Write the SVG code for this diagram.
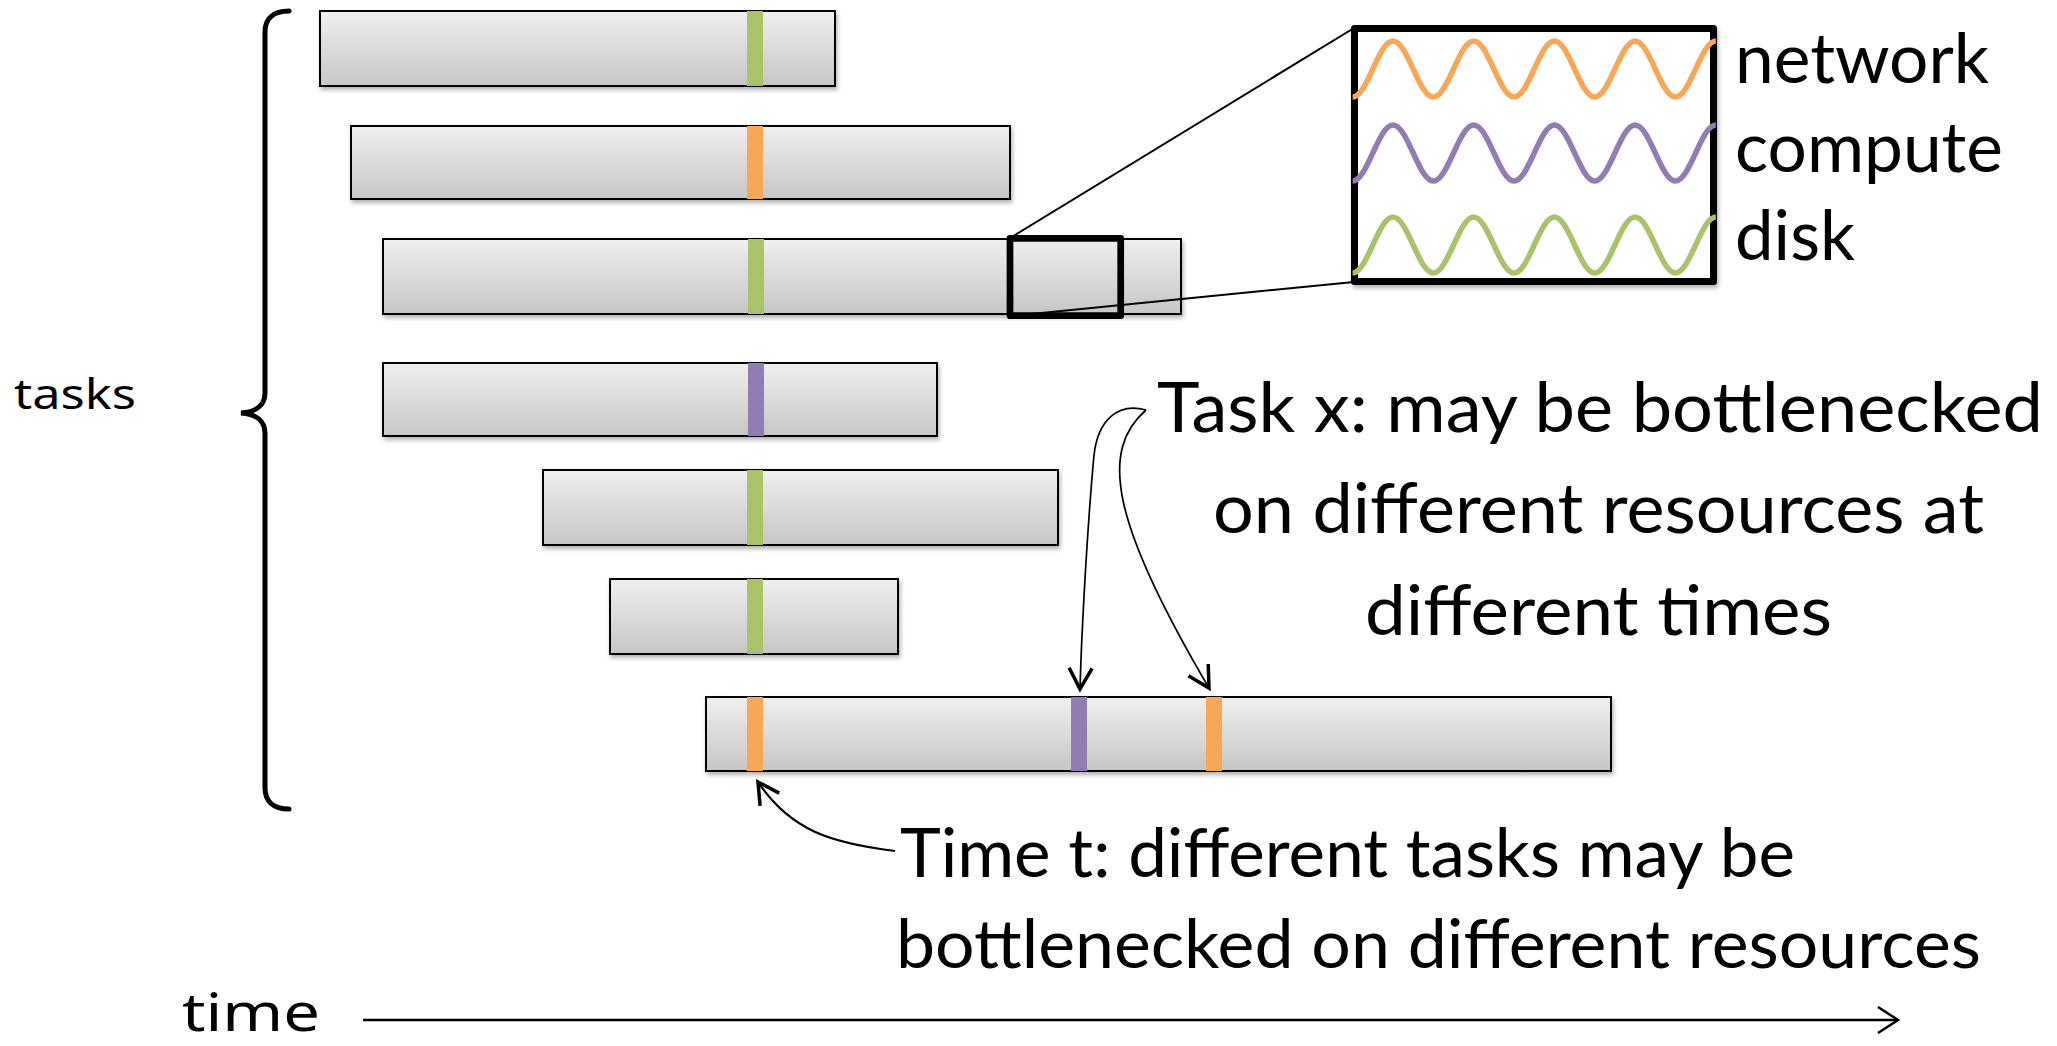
<svg xmlns="http://www.w3.org/2000/svg" width="2057" height="1046" viewBox="0 0 2057 1046">
<style>
  .bar { fill: url(#barGrad); stroke: #000; stroke-width: 2; filter: url(#shadow); }
  .green { fill: #A9C36A; }
  .orange { fill: #F8A757; }
  .purple { fill: #917CB3; }
  .wave { fill: none; stroke-width: 5.5; stroke-linejoin: round; }
  .big { font-family: Lato, "Liberation Sans", sans-serif; font-size: 70px; fill: #000; }
  .mid { font-family: Lato, "Liberation Sans", sans-serif; font-size: 68px; fill: #000; }
  .side { font-family: "Noto Sans", "DejaVu Sans", sans-serif; fill: #000; }
  .conn { fill: none; stroke: #000; }
</style>
<defs>
  <linearGradient id="barGrad" x1="0" y1="0" x2="0" y2="1">
    <stop offset="0" stop-color="#EFEFEF"/>
    <stop offset="1" stop-color="#C6C6C6"/>
  </linearGradient>
  <filter id="shadow" x="-5%" y="-20%" width="110%" height="150%">
    <feDropShadow dx="1.5" dy="3" stdDeviation="2" flood-color="#000" flood-opacity="0.3"/>
  </filter>
  <marker id="chev" markerUnits="userSpaceOnUse" markerWidth="30" markerHeight="30" viewBox="-25 -15 30 30" refX="0" refY="0" orient="auto" overflow="visible">
    <path d="M-21,-11.5 L0,0 L-21,11.5" fill="none" stroke="#000" stroke-width="3.5"/>
  </marker>
  <marker id="chevT" markerUnits="userSpaceOnUse" markerWidth="30" markerHeight="30" viewBox="-25 -15 30 30" refX="0" refY="0" orient="auto" overflow="visible">
    <path d="M-20,-13 L0,0 L-20,13" fill="none" stroke="#000" stroke-width="2.5"/>
  </marker>
</defs>
<rect x="0" y="0" width="2057" height="1046" fill="#fff"/>

<g id="brace">
  <path d="M289,11 C273,11 265,19 265,32 L265,393 C265,405 256,412 241,413 C256,414 265,421 265,433 L265,788 C265,801 273,809 289,809" fill="none" stroke="#000" stroke-width="5" stroke-linecap="round"/>
</g>
<g id="label-tasks"><text class="side" x="14" y="409" font-size="42" textLength="122" lengthAdjust="spacingAndGlyphs">tasks</text></g>

<g id="task1"><rect class="bar" x="320" y="11" width="515" height="75"/><rect class="green" x="747" y="11" width="16" height="75"/></g>
<g id="task2"><rect class="bar" x="351" y="126" width="659" height="73"/><rect class="orange" x="747" y="126" width="16" height="73"/></g>
<g id="task3"><rect class="bar" x="383" y="239" width="798" height="75"/><rect class="green" x="748" y="239" width="16" height="75"/></g>
<g id="task4"><rect class="bar" x="383" y="363" width="554" height="73"/><rect class="purple" x="748" y="363" width="16" height="73"/></g>
<g id="task5"><rect class="bar" x="543" y="470" width="515" height="75"/><rect class="green" x="747" y="470" width="16" height="75"/></g>
<g id="task6"><rect class="bar" x="610" y="579" width="288" height="75"/><rect class="green" x="747" y="579" width="16" height="75"/></g>
<g id="task7"><rect class="bar" x="706" y="697" width="905" height="74"/><rect class="orange" x="747" y="697" width="16" height="74"/><rect class="purple" x="1071" y="697" width="16" height="74"/><rect class="orange" x="1206" y="697" width="16" height="74"/></g>

<g id="zoom-box">
  <rect x="1010" y="238.3" width="110.7" height="77.4" fill="none" stroke="#000" stroke-width="6.7" stroke-linejoin="round"/>
</g>

<g id="connectors">
  <path class="conn" d="M1010,238 L1354,28" stroke-width="2"/>
  <path class="conn" d="M1010,316 L1354,282" stroke-width="2"/>
  <path class="conn" d="M1146,410 C1118,402 1098,420 1094,455 C1088,520 1082,620 1080,689" stroke-width="1.7" marker-end="url(#chev)"/>
  <path class="conn" d="M1146,410 C1100,450 1110,520 1209,688" stroke-width="1.7" marker-end="url(#chev)"/>
  <path class="conn" d="M895,851 C830,843 790,830 758,782" stroke-width="2.2" marker-end="url(#chev)"/>
  <path class="conn" d="M363,1020 L1898,1020" stroke-width="2.5" marker-end="url(#chevT)"/>
</g>

<g id="inset">
  <rect x="1354.5" y="28.5" width="359" height="253" fill="#fff" stroke="#000" stroke-width="7" stroke-linejoin="round" filter="url(#shadow)"/>
  <path class="wave" stroke="#F8A757" d="M1352.65,97 c14.66,0 25.69,-56 40.35,-56 s25.69,56 40.35,56 s25.69,-56 40.35,-56 s25.69,56 40.35,56 s25.69,-56 40.35,-56 s25.69,56 40.35,56 s25.69,-56 40.35,-56 s25.69,56 40.35,56 s25.69,-56 40.35,-56"/>
  <path class="wave" stroke="#917CB3" d="M1352.65,181 c14.66,0 25.69,-56 40.35,-56 s25.69,56 40.35,56 s25.69,-56 40.35,-56 s25.69,56 40.35,56 s25.69,-56 40.35,-56 s25.69,56 40.35,56 s25.69,-56 40.35,-56 s25.69,56 40.35,56 s25.69,-56 40.35,-56"/>
  <path class="wave" stroke="#A9C36A" d="M1352.65,273 c14.66,0 25.69,-56 40.35,-56 s25.69,56 40.35,56 s25.69,-56 40.35,-56 s25.69,56 40.35,56 s25.69,-56 40.35,-56 s25.69,56 40.35,56 s25.69,-56 40.35,-56 s25.69,56 40.35,56 s25.69,-56 40.35,-56"/>
</g>

<g id="legend">
  <text class="big" x="1735" y="83" textLength="254" lengthAdjust="spacingAndGlyphs">network</text>
  <text class="big" x="1735" y="172" textLength="268" lengthAdjust="spacingAndGlyphs">compute</text>
  <text class="big" x="1735" y="260" textLength="120" lengthAdjust="spacingAndGlyphs">disk</text>
</g>

<g id="note-task-x">
  <text class="big" x="1157" y="432" textLength="886" lengthAdjust="spacingAndGlyphs">Task x: may be bottlenecked</text>
  <text class="big" x="1213" y="533" textLength="771" lengthAdjust="spacingAndGlyphs">on different resources at</text>
  <text class="big" x="1365" y="635" textLength="467" lengthAdjust="spacingAndGlyphs">different times</text>
</g>

<g id="note-time-t">
  <text class="mid" x="900" y="877" textLength="895" lengthAdjust="spacingAndGlyphs">Time t: different tasks may be</text>
  <text class="mid" x="896" y="968" textLength="1085" lengthAdjust="spacingAndGlyphs">bottlenecked on different resources</text>
</g>

<g id="label-time"><text class="side" x="182" y="1031" font-size="52" textLength="138" lengthAdjust="spacingAndGlyphs">time</text></g>
</svg>
